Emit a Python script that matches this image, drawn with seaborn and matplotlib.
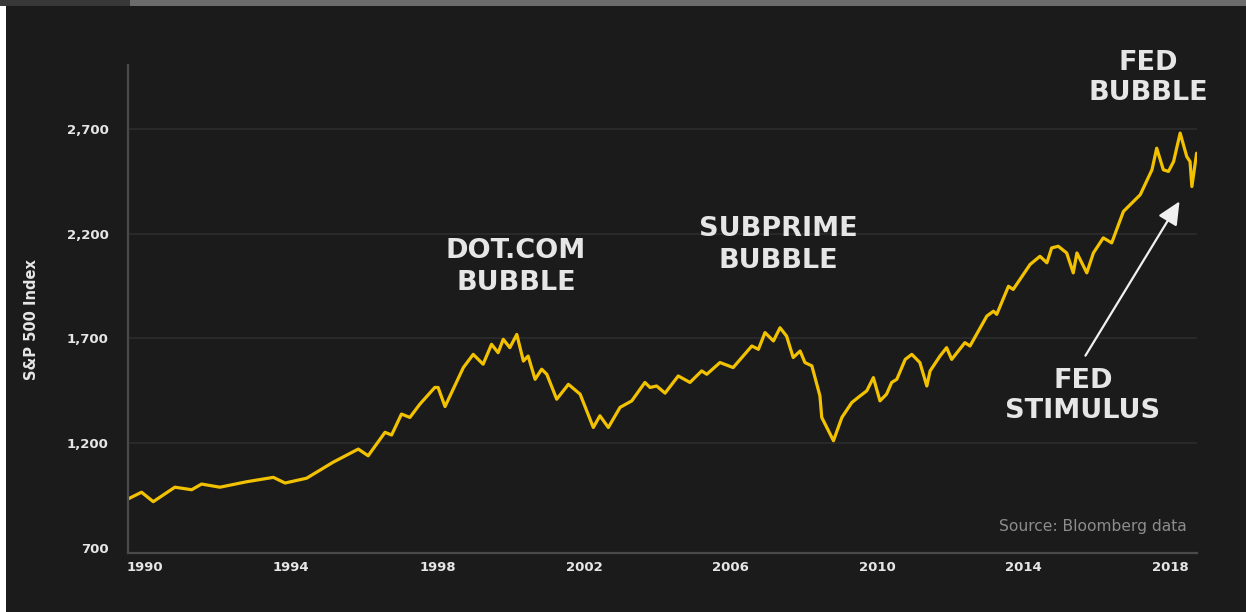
import numpy as np
import pandas as pd
import seaborn as sns
import matplotlib.pyplot as plt
from matplotlib.patches import Rectangle

# S&P 500 index as drawn on the chart (decimal year, index value)
years = [1989.54, 1989.91, 1990.23, 1990.82, 1991.28, 1991.55, 1992.05, 1992.78,
         1993.51, 1993.83, 1994.42, 1995.14, 1995.83, 1996.10, 1996.56, 1996.74,
         1997.01, 1997.24, 1997.51, 1997.92, 1998.01, 1998.20, 1998.70, 1998.97,
         1999.24, 1999.47, 1999.65, 1999.79, 1999.97, 2000.16, 2000.34, 2000.47,
         2000.66, 2000.84, 2000.98, 2001.25, 2001.57, 2001.89, 2002.25, 2002.43,
         2002.66, 2002.98, 2003.30, 2003.66, 2003.80, 2003.98, 2004.21, 2004.57,
         2004.89, 2005.21, 2005.35, 2005.71, 2006.07, 2006.58, 2006.76, 2006.94,
         2007.17, 2007.35, 2007.53, 2007.71, 2007.90, 2008.03, 2008.22, 2008.44,
         2008.49, 2008.81, 2009.04, 2009.31, 2009.54, 2009.72, 2009.90, 2010.08,
         2010.26, 2010.40, 2010.54, 2010.77, 2010.95, 2011.17, 2011.36, 2011.45,
         2011.72, 2011.90, 2012.04, 2012.40, 2012.54, 2013.00, 2013.18, 2013.27,
         2013.59, 2013.72, 2014.18, 2014.45, 2014.64, 2014.77, 2014.95, 2015.18,
         2015.36, 2015.46, 2015.73, 2015.91, 2016.18, 2016.41, 2016.73, 2017.19,
         2017.51, 2017.64, 2017.82, 2017.96, 2018.10, 2018.28, 2018.46, 2018.55,
         2018.60, 2018.73]
index_values = [934, 966, 921, 990, 978, 1005, 990, 1016,
                1037, 1010, 1033, 1109, 1172, 1140, 1252, 1239,
                1339, 1323, 1386, 1466, 1466, 1375, 1561, 1624,
                1577, 1672, 1632, 1696, 1656, 1719, 1592, 1616,
                1505, 1553, 1529, 1410, 1481, 1434, 1275, 1331,
                1275, 1371, 1402, 1490, 1466, 1473, 1439, 1521,
                1490, 1545, 1529, 1585, 1561, 1664, 1648, 1728,
                1688, 1751, 1711, 1609, 1640, 1585, 1569, 1426,
                1323, 1212, 1323, 1394, 1426, 1450, 1513, 1402,
                1434, 1490, 1505, 1600, 1624, 1585, 1473, 1545,
                1616, 1656, 1600, 1680, 1664, 1807, 1830, 1815,
                1949, 1934, 2053, 2092, 2061, 2132, 2140, 2108,
                2013, 2108, 2013, 2108, 2180, 2156, 2306, 2386,
                2505, 2608, 2505, 2497, 2544, 2680, 2568, 2544,
                2425, 2584]

y_ticks = [700, 1200, 1700, 2200, 2700]
x_ticks = [1990, 1994, 1998, 2002, 2006, 2010, 2014, 2018]

bg = "#1b1b1b"
text_col = "#e6e6e6"

sns.set_style("dark")
plt.rcParams['font.family'] = ['DejaVu Sans']

fig = plt.figure(figsize=(12.46, 6.12), dpi=100, facecolor=bg)
ax = fig.add_axes([128 / 1246, 1 - 553 / 612, (1197 - 128) / 1246, (553 - 65) / 612])
ax.set_facecolor(bg)

df = pd.DataFrame({"year": years, "value": index_values})
sns.lineplot(data=df, x="year", y="value", ax=ax, color="#f2c200", linewidth=2.3)

ax.set_xlim(1989.54, 2018.74)
ax.set_ylim(676, 3005)
ax.set_yticks(y_ticks)
ax.set_yticklabels([f"{v:,}" for v in y_ticks])
ax.set_xticks(x_ticks)
ax.set_xticklabels([str(v) for v in x_ticks])
ax.tick_params(axis="both", length=0, colors=text_col, labelsize=9.5)
ax.tick_params(axis="y", pad=14)
ax.tick_params(axis="x", pad=6)
for lab in ax.get_xticklabels() + ax.get_yticklabels():
    lab.set_fontweight("bold")

ax.grid(False)
for v in y_ticks[1:]:
    ax.axhline(v, color="#2c2c2c", linewidth=1.2, zorder=0)

for s in ["top", "right"]:
    ax.spines[s].set_visible(False)
for s in ["left", "bottom"]:
    ax.spines[s].set_visible(True)
    ax.spines[s].set_color("#4a4a4a")
    ax.spines[s].set_linewidth(1.6)

ax.set_xlabel("")
ax.set_ylabel("")
fig.text(31 / 1246, 1 - 320 / 612, "S&P 500 Index", rotation=90, color=text_col,
         fontsize=10.5, fontweight="bold", ha="center", va="center")

# annotations
ann = dict(color=text_col, fontsize=19.5, fontweight="bold", ha="center",
           va="center", linespacing=1.25)
fig.text(516 / 1246, 1 - 267 / 612, "DOT.COM\nBUBBLE", **ann)
fig.text(778 / 1246, 1 - 245 / 612, "SUBPRIME\nBUBBLE", **ann)
fig.text(1148 / 1246, 1 - 78 / 612, "FED\nBUBBLE", **ann)
fig.text(1083 / 1246, 1 - 396 / 612, "FED\nSTIMULUS", **ann)

ax.annotate("", xy=(1181 / 1246, 1 - 199 / 612), xytext=(1084 / 1246, 1 - 358 / 612),
            xycoords="figure fraction", textcoords="figure fraction",
            arrowprops=dict(arrowstyle="-|>,head_length=1.4,head_width=0.65",
                            color="#f0f0f0", lw=1.6))

fig.text(1187 / 1246, 1 - 527 / 612, "Source: Bloomberg data", color="#8c8c8c",
         fontsize=11.2, ha="right", va="center")

# top bar and left white edge of the screenshot
fig.patches.append(Rectangle((0, 1 - 6 / 612), 130 / 1246, 6 / 612, transform=fig.transFigure,
                             facecolor="#383838", edgecolor="none", zorder=5))
fig.patches.append(Rectangle((130 / 1246, 1 - 6 / 612), 1, 6 / 612, transform=fig.transFigure,
                             facecolor="#6c6c6c", edgecolor="none", zorder=5))
fig.patches.append(Rectangle((0, 0), 6 / 1246, 1 - 6 / 612, transform=fig.transFigure,
                             facecolor="#ffffff", edgecolor="none", zorder=5))

fig.savefig("out.png", dpi=100, facecolor=bg)
